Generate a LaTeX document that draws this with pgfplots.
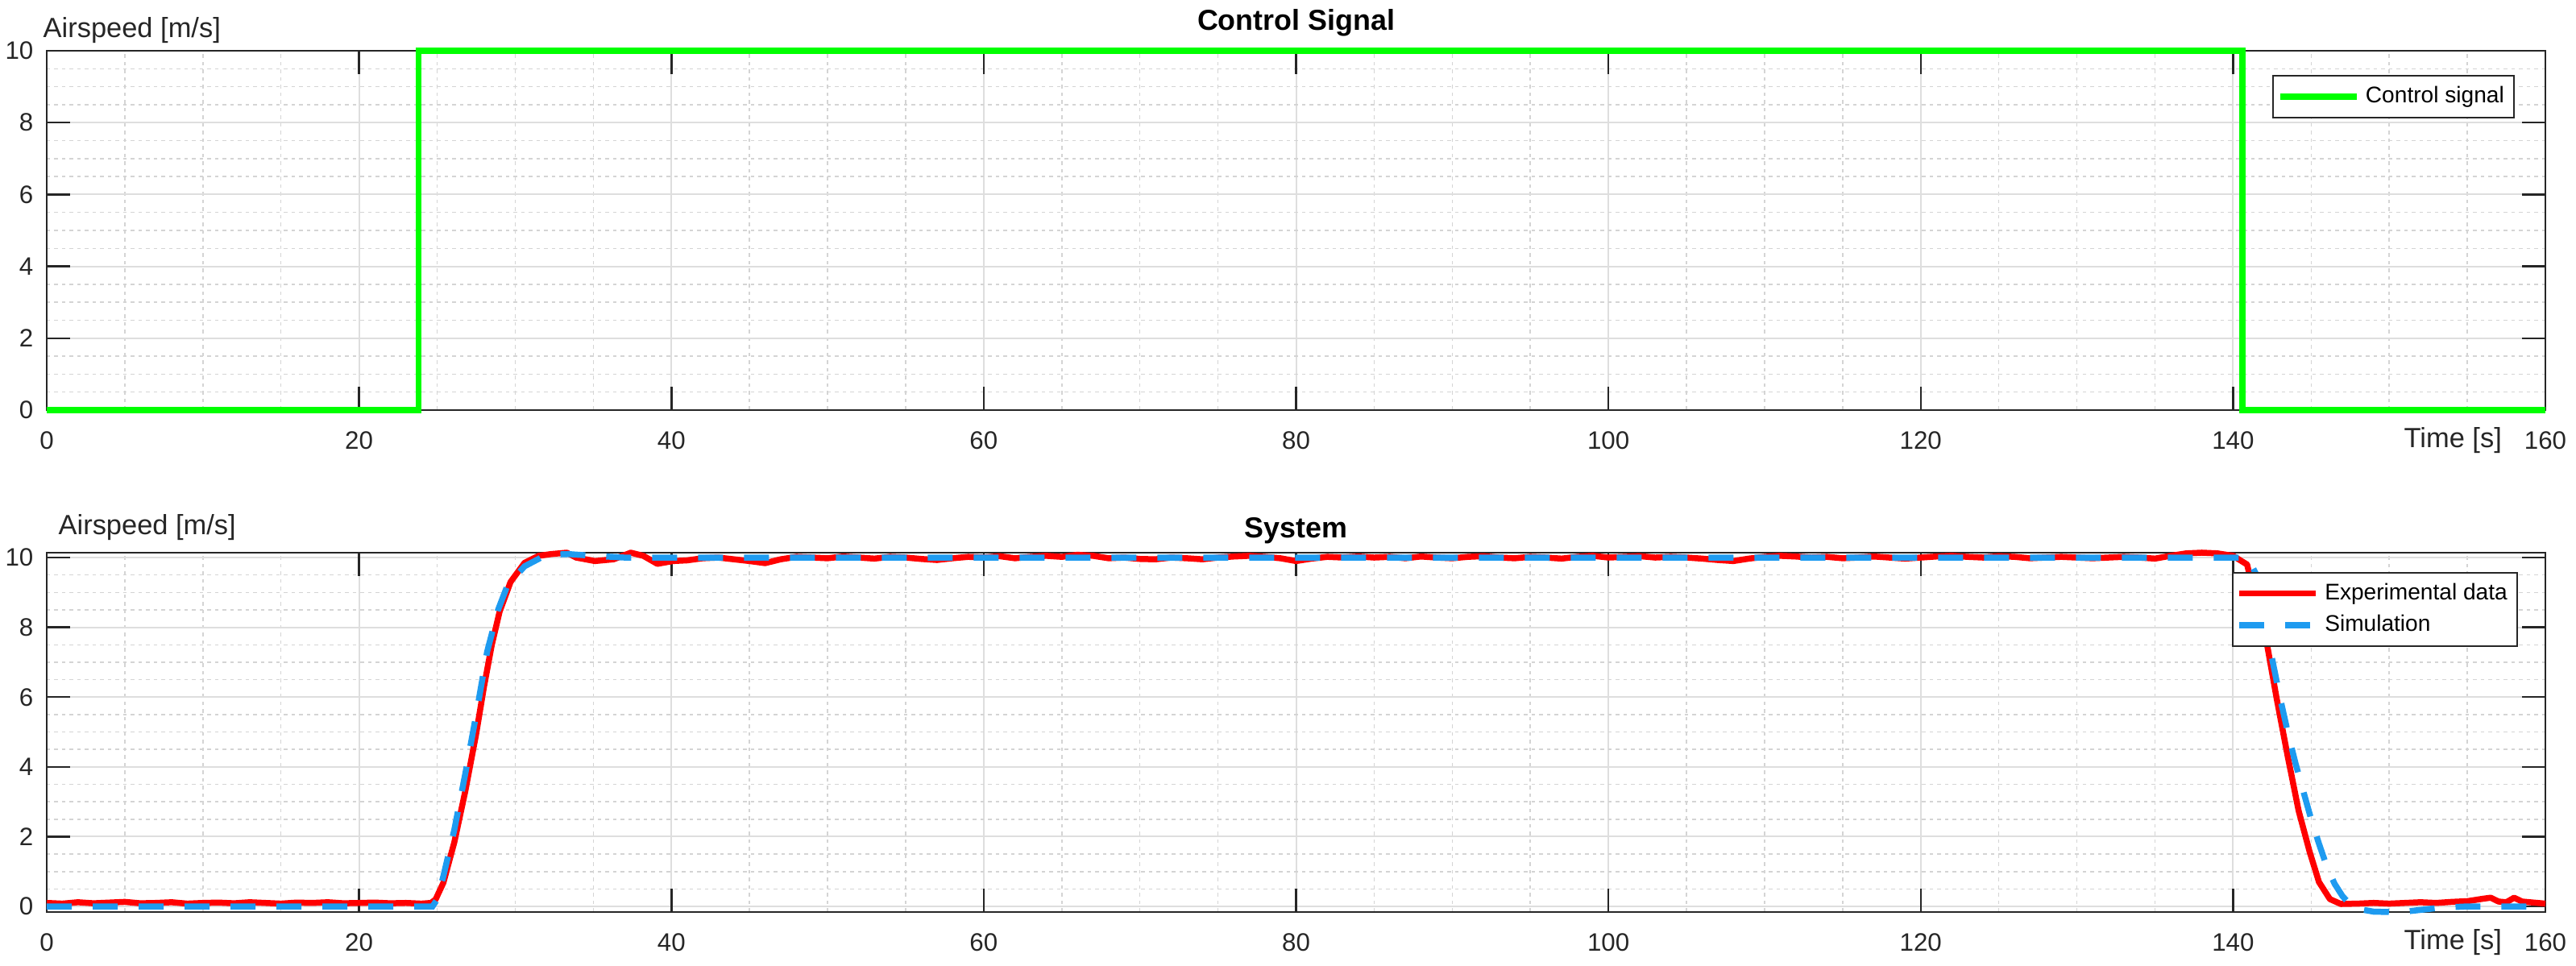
\documentclass[border=0pt]{standalone}
\usepackage{pgfplots}
\pgfplotsset{compat=1.18}
\usepackage{fontspec}
\setmainfont{Liberation Sans}
\definecolor{simblue}{RGB}{30,155,240}
\definecolor{ctrlgreen}{RGB}{0,255,0}
\begin{document}
\begin{tikzpicture}
\pgfplotsset{
 myaxis/.style={
  scale only axis, width=310.1mm, height=44.6mm, anchor=south west,
  xmin=0, xmax=160, xtick={0,20,...,160},
  ytick={0,2,...,10},
  minor x tick num=3, minor y tick num=3,
  grid=both,
  major grid style={draw=black!13, line width=0.2mm},
  minor grid style={draw=black!17, line width=0.15mm, dash pattern=on 0.45mm off 0.5mm},
  major tick length=2.9mm, minor tick length=0pt,
  tick align=inside,
  tick style={draw=black!85, line width=0.25mm},
  axis line style={draw=black!85, line width=0.25mm},
  /pgf/number format/assume math mode=true,
  tick label style={font=\fontsize{8.9}{10}\selectfont, text=black!85},
  xticklabel style={anchor=center, inner sep=0pt, yshift=-3.8mm},
  yticklabel style={anchor=east, inner sep=0pt, xshift=-1.6mm},
  xlabel={Time [s]}, ylabel={Airspeed [m/s]},
  every axis x label/.style={at={(axis description cs:0.963,-0.085)}, anchor=center, inner sep=0pt, font=\fontsize{9.8}{11}\selectfont, text=black!85},
  every axis title/.style={anchor=center, inner sep=0pt, font=\bfseries\fontsize{10.2}{11}\selectfont},
  legend cell align=left,
  legend image code/.code={\draw[#1] (0mm,0mm) -- (9.5mm,0mm);},
  legend style={draw=black!85, line width=0.2mm, fill=white, font=\fontsize{8}{9.6}\selectfont, inner xsep=0.5mm, inner ysep=0.6mm, anchor=north east},
  clip=false,
 }
}
\path[use as bounding box] (0,0) rectangle (319.7mm,119.9mm);
% Top panel
\begin{axis}[myaxis,
  at={(5.8mm,69.0mm)},
  ymin=0, ymax=10,
  title={Control Signal},
  title style={at={(axis description cs:0.5,1.078)}},
  every axis y label/.style={at={(axis description cs:-0.0016,1.056)}, anchor=west, inner sep=0pt, rotate=0, font=\fontsize{9.8}{11}\selectfont, text=black!85},
  legend style={at={(axis description cs:0.9877,0.9327)}},
]
\addplot[color=ctrlgreen, line width=0.75mm] coordinates {(0,0)(23.8,0)(23.8,10)(140.6,10)(140.6,0)(160,0)};
\addlegendentry{Control signal}
\end{axis}
% Bottom panel
\begin{axis}[myaxis,
  at={(5.8mm,6.7mm)},
  ymin=-0.16, ymax=10.14,
  title={System},
  title style={at={(axis description cs:0.5,1.062)}},
  every axis y label/.style={at={(axis description cs:0.0045,1.0695)}, anchor=west, inner sep=0pt, rotate=0, font=\fontsize{9.8}{11}\selectfont, text=black!85},
  legend style={at={(axis description cs:0.989,0.947)}},
]
\addplot[color=red, line width=0.75mm, line join=round] coordinates {
(0,0.1)(1,0.08)(2,0.12)(3,0.09)(4,0.11)(5,0.13)(6,0.09)(7,0.1)(8,0.12)(9,0.08)(10,0.1)(11,0.11)(12,0.09)(13,0.12)(14,0.1)(15,0.08)(16,0.11)(17,0.1)(18,0.12)(19,0.09)(20,0.1)(21,0.11)(22,0.09)(23,0.1)(24,0.08)(24.6,0.1)(24.9,0.2)(25.4,0.68)(26.1,1.84)(26.8,3.3)(27.5,4.95)(28.0,6.3)(28.5,7.5)(29.0,8.45)(29.7,9.3)(30.6,9.85)(31.5,10.05)(32.3,10.1)(33.3,10.14)(33.9,10.0)(35.1,9.9)(36.3,9.95)(37.4,10.14)(38.2,10.05)(39.1,9.82)(40.1,9.9)
(41,9.92)(42,9.98)(43,10.0)(44,9.95)(45,9.9)(46,9.84)(47,9.95)(48,10.02)(49,10.0)(50,9.98)(51,10.03)(52,10.0)(53,9.97)(54,10.02)(55,10.0)(56,9.96)(57,9.93)(58,9.98)(59,10.02)(60,10.0)(61,10.04)(62,9.98)(63,10.02)(64,10.05)(65,10.02)(66,10.08)(67,10.05)(68,9.98)(69,10.0)(70,9.96)(71,9.95)(72,10.0)(73,9.98)(74,9.95)(75,10.0)(76,10.03)(77,10.05)(78,10.02)(79,9.98)(80,9.9)(81,9.97)(82,10.02)(83,10.0)(84,10.03)(85,10.0)(86,10.02)(87,9.98)(88,10.03)(89,10.0)(90,9.98)(91,10.02)(92,10.04)(93,10.0)(94,9.98)(95,10.02)(96,10.0)(97,9.97)(98,10.02)(99,10.05)(100,10.0)(101,10.02)(102,10.04)(103,10.0)(104,10.02)(105,10.0)(106,9.97)(107,9.93)(108,9.9)(109,9.97)(110,10.02)(111,10.05)(112,10.03)(113,10.0)(114,10.02)(115,9.98)(116,10.0)(117,10.03)(118,10.0)(119,9.97)(120,10.0)(121,10.03)(122,10.05)(123,10.02)(124,10.0)(125,10.04)(126,10.02)(127,9.98)(128,10.0)(129,10.02)(130,10.0)(131,9.98)(132,10.0)(133,10.02)(134,10.0)(135,9.97)(136,10.05)(137,10.12)(138,10.14)(139,10.12)(140,10.05)
(140.9,9.8)(141.4,8.85)(142.1,7.7)(142.8,5.94)(143.5,4.3)(144.2,2.74)(144.9,1.57)(145.5,0.7)(146.2,0.21)(146.9,0.07)(148,0.08)(149,0.1)(150,0.08)(151,0.1)(152,0.12)(153,0.1)(154,0.13)(155,0.15)(156,0.22)(156.5,0.25)(157,0.14)(157.5,0.12)(158,0.25)(158.5,0.14)(159,0.12)(160,0.08)};
\addlegendentry{Experimental data}
\addplot[color=simblue, line width=0.75mm, dash pattern=on 3.1mm off 2.6mm] coordinates {
(0,0)(24.7,0)(25.0,0.2)(25.4,0.87)(26.1,2.2)(26.8,3.8)(27.5,5.5)(28.2,7.3)(28.9,8.5)(29.5,9.2)(30.6,9.75)(32.0,10.08)(33.4,10.1)(35,10.05)(37,10.0)(140.8,10.0)
(141.0,9.95)(141.5,9.5)(142.0,8.3)(142.5,7.1)(143.0,6.0)(143.5,5.0)(144.0,4.1)(144.5,3.3)(145.0,2.5)(145.5,1.8)(146.0,1.15)(146.5,0.65)(147.0,0.3)(147.5,0.05)(148,-0.07)(149,-0.15)(150,-0.16)(151,-0.15)(152,-0.1)(153,-0.05)(154,-0.02)(155,0)(160,0)};
\addlegendentry{Simulation}
\end{axis}
\end{tikzpicture}
\end{document}
